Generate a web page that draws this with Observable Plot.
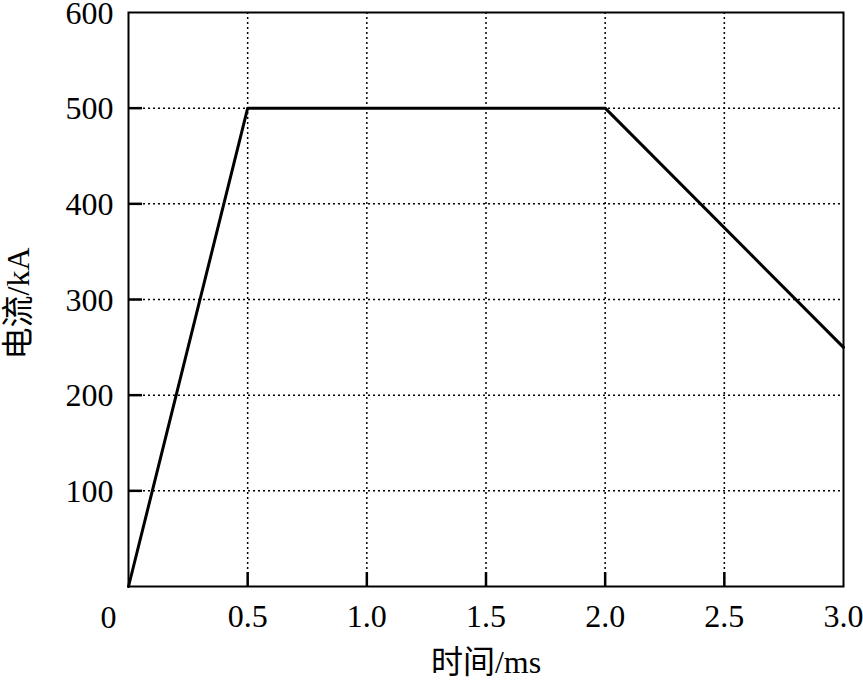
<!DOCTYPE html>
<html>
<head>
<meta charset="utf-8">
<script src="https://cdn.jsdelivr.net/npm/d3@7"></script>
<script src="https://cdn.jsdelivr.net/npm/@observablehq/plot@0.6"></script>
<style>
  html, body { margin: 0; padding: 0; background: #fff; }
  svg { display: block; }
</style>
</head>
<body>
<div id="chart"></div>
<script>
const times = [0, 0.5, 2.0, 3.0];
const currents = [0, 500, 500, 250];
const xTicks = [0.5, 1.0, 1.5, 2.0, 2.5, 3.0];
const yTicks = [100, 200, 300, 400, 500, 600];
const xLabel = "时间/ms";
const yLabel = "电流/kA";

const data = times.map((t, i) => ({t, c: currents[i]}));
const font = "'Liberation Serif', 'Times New Roman', 'Noto Sans CJK SC', serif";
const fs = 32;

const chart = Plot.plot({
  width: 863,
  height: 681,
  marginLeft: 128,
  marginRight: 20,
  marginTop: 12,
  marginBottom: 95,
  style: {fontFamily: font, fontSize: fs + "px", color: "#000", background: "#fff"},
  x: {domain: [0, 3], label: null},
  y: {domain: [0, 600], label: null},
  marks: [
    Plot.gridX(xTicks.slice(0, -1), {stroke: "#000", strokeOpacity: 1, strokeWidth: 1.5, strokeDasharray: "2,3"}),
    Plot.gridY(yTicks.slice(0, -1), {stroke: "#000", strokeOpacity: 1, strokeWidth: 1.5, strokeDasharray: "2,3"}),
    Plot.tickX(xTicks.slice(0, -1), {x: d => d, insetTop: 560, stroke: "#000", strokeWidth: 2.5}),
    Plot.tickY(yTicks.slice(0, -1), {y: d => d, insetRight: 701, stroke: "#000", strokeWidth: 2.5}),
    Plot.axisX(xTicks, {tickSize: 0, tickPadding: 18, tickFormat: d3.format(".1f"), fontSize: fs}),
    Plot.axisY(yTicks, {tickSize: 0, tickPadding: 15, fontSize: fs, dy: 1}),
    Plot.text(["0"], {x: 0, y: 0, dx: -20, dy: 31, fontSize: fs, fill: "#000"}),
    Plot.frame({stroke: "#000", strokeWidth: 2}),
    Plot.line(data, {x: "t", y: "c", stroke: "#000", strokeWidth: 3}),
    Plot.text([xLabel], {frameAnchor: "bottom", dy: 86, fontSize: fs, fill: "#000"}),
    Plot.text([yLabel], {frameAnchor: "left", textAnchor: "middle", dx: -110, dy: 4, rotate: -90, fontSize: fs, fill: "#000"})
  ]
});
document.getElementById("chart").append(chart);
</script>
</body>
</html>
